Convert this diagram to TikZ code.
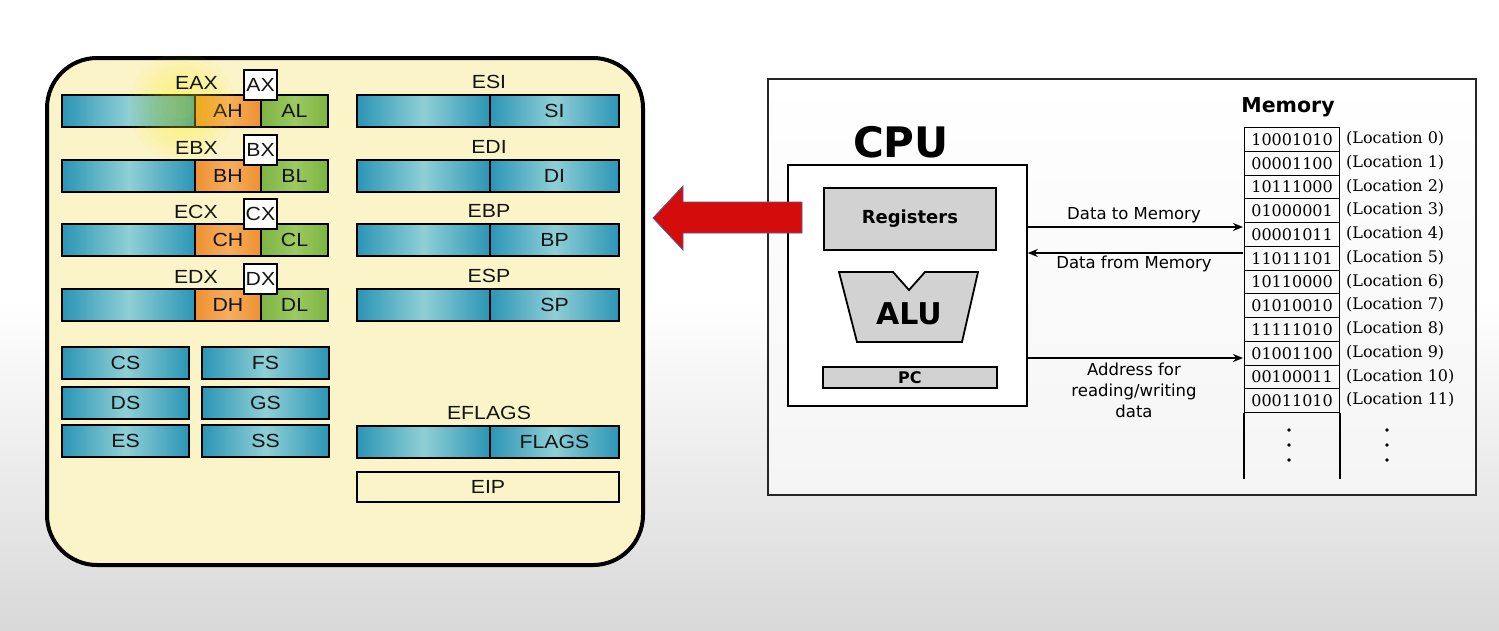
\documentclass[tikz,border=0pt]{standalone}
\usepackage{fontspec}
\usetikzlibrary{arrows.meta}
\newfontfamily\regfam[FakeStretch=1.12]{Liberation Sans}
\newfontfamily\dvsfam{DejaVu Sans}
\newfontfamily\dvserfam{DejaVu Serif}
\newcommand\regf{\regfam\fontsize{19}{19}\selectfont}
\definecolor{panelY}{HTML}{FBF4C8}
\definecolor{cyD}{HTML}{2B95B5}
\definecolor{cyL}{HTML}{8FCFD6}
\definecolor{orD}{HTML}{EE9032}
\definecolor{orL}{HTML}{F6AE5C}
\definecolor{grD}{HTML}{7DB443}
\definecolor{grL}{HTML}{9CC960}
\definecolor{arrowred}{HTML}{D40C0C}
\definecolor{arrowedge}{HTML}{4F5F8F}
\definecolor{grayfill}{HTML}{D2D2D2}
\definecolor{inktext}{HTML}{141414}
\tikzset{
  seg/.style={draw=black, line width=2.6pt, minimum height=32pt, inner sep=0pt, outer sep=0pt,
    font=\regf, text=inktext, anchor=north west},
  cyanseg/.style={seg, left color=cyD, right color=cyD, middle color=cyL},
  oseg/.style={seg, left color=orD, right color=orD, middle color=orL},
  gseg/.style={seg, left color=grD, right color=grD, middle color=grL},
  xbox/.style={draw=black, fill=white, line width=2.2pt, minimum width=33pt, minimum height=30pt,
    inner sep=0pt, font=\regf, text=inktext},
  reglbl/.style={font=\regf, text=inktext, inner sep=0pt},
  cpubox/.style={draw=black, line width=1.8pt, inner sep=0pt, anchor=north west},
  graybox/.style={cpubox, fill=grayfill},
  cell/.style={draw=black, line width=1.2pt, minimum width=95pt, minimum height=23.75pt,
    inner sep=0pt, anchor=north west, font=\dvserfam\fontsize{16}{16}\selectfont},
  loclbl/.style={anchor=west, inner sep=0pt, font=\dvserfam\fontsize{16}{16}\selectfont},
  buslbl/.style={font=\dvsfam\fontsize{16.5}{21}\selectfont, align=center, inner sep=0pt},
  bus/.style={line width=1.6pt, -{Stealth[length=10pt,width=8pt]}},
}
\begin{document}
\begin{tikzpicture}[x=1pt,y=-1pt]
\useasboundingbox (0,0) rectangle (1499,630);
% page background
\fill[white] (0,0) rectangle (1499,630);
\shade[top color=white, bottom color=black!15] (0,300) rectangle (1499,630);

% ---------- left panel ----------
\draw[line width=4pt, fill=panelY, rounded corners=50pt] (47,58) rectangle (643,565);

\foreach \L/\y in {A/95, B/160, C/224, D/289} {
  \node[cyanseg, minimum width=133pt] (e\L) at (62,\y) {};
  \node[oseg, minimum width=66pt] (\L h) at (195,\y) {\L H};
  \node[gseg, minimum width=67pt] (\L l) at (261,\y) {\L L};
}
% highlight glow
\foreach \r in {12,18,...,54} \fill[yellow, opacity=0.05] (182,107) circle (\r);
\foreach \L/\y in {A/95, B/160, C/224, D/289} {
  \node[xbox] (\L x) at (260.5,\y-10) {\L X};
  \node[reglbl, anchor=east] (E\L X) at (218,\y-12) {E\L X};
}

\foreach \n/\s/\y in {ESI/SI/95, EDI/DI/160, EBP/BP/224, ESP/SP/289, EFLAGS/FLAGS/426} {
  \node[cyanseg, minimum width=133pt] (\n hi) at (357,\y) {};
  \node[cyanseg, minimum width=129pt] (\s) at (490,\y) {\s};
  \node[reglbl] (\n) at (489,\y-13) {\n};
}

\foreach \n/\x/\y in {CS/62/347, FS/202/347, DS/62/387, GS/202/387, ES/62/425, SS/202/425} {
  \node[cyanseg, minimum width=127pt] (\n) at (\x,\y) {\n};
}
\node[seg, fill=panelY, minimum width=262pt, minimum height=30pt] (EIP) at (357,472) {EIP};

% ---------- right panel ----------
\shade[top color=white, bottom color=black!4] (768,79) rectangle (1476,495);
\draw[line width=2pt, draw=black!85] (768,79) rectangle (1476,495);

\node[font=\dvsfam\bfseries\fontsize{42}{42}\selectfont, inner sep=0pt] (cpulbl) at (901,142) {CPU};
\node[cpubox, fill=white, minimum width=239pt, minimum height=241pt] (cpu) at (787,164) {};
\node[graybox, minimum width=172pt, minimum height=62pt,
  font=\dvsfam\bfseries\fontsize{18}{18}\selectfont] (regs) at (823,187) {Registers};
\filldraw[fill=grayfill, draw=black, line width=1.8pt]
  (839,272) -- (893,272) -- (909,290) -- (925,272) -- (978,272) -- (962,342) -- (857,342) -- cycle;
\node[font=\dvsfam\bfseries\fontsize{30}{30}\selectfont, inner sep=0pt] (alu) at (909,314) {ALU};
\node[graybox, minimum width=174pt, minimum height=21pt,
  font=\dvsfam\bfseries\fontsize{16}{16}\selectfont] (pc) at (822,366) {PC};

% memory
\node[font=\dvsfam\bfseries\fontsize{20.5}{20.5}\selectfont, inner sep=0pt] (memlbl) at (1288,107) {Memory};
\foreach \v [count=\i from 0] in {10001010,00001100,10111000,01000001,00001011,11011101,
    10110000,01010010,11111010,01001100,00100011,00011010} {
  \node[cell] (m\i) at (1244,127+\i*23.75) {\v};
  \node[loclbl] (l\i) at (1346,127+\i*23.75+11.9) {(Location \i)};
}
\draw[line width=1.6pt] (m11.south west) -- ++(0,66);
\draw[line width=1.6pt] (m11.south east) -- ++(0,66);
\foreach \yy in {430,445,460} {
  \fill (1289,\yy) circle (1.8);
  \fill (1387,\yy) circle (1.8);
}

% buses
\coordinate (b1) at (1243,227);
\coordinate (b2) at (1243,253);
\coordinate (b3) at (1243,358);
\draw[bus] (cpu.east |- b1) -- (b1);
\draw[bus] (b2) -- (cpu.east |- b2);
\draw[bus] (cpu.east |- b3) -- (b3);
\node[buslbl] (t1) at (1134,215) {Data to Memory};
\node[buslbl] (t2) at (1134,264) {Data from Memory};
\node[buslbl] (t3) at (1134,390) {Address for\\reading/writing\\data};

% ---------- red arrow (on top) ----------
\filldraw[fill=arrowred, draw=arrowedge, line width=0.8pt]
  (653,218) -- (683,186) -- (683,202) -- (802,202) -- (802,233) -- (683,233) -- (683,250) -- cycle;
\end{tikzpicture}
\end{document}
